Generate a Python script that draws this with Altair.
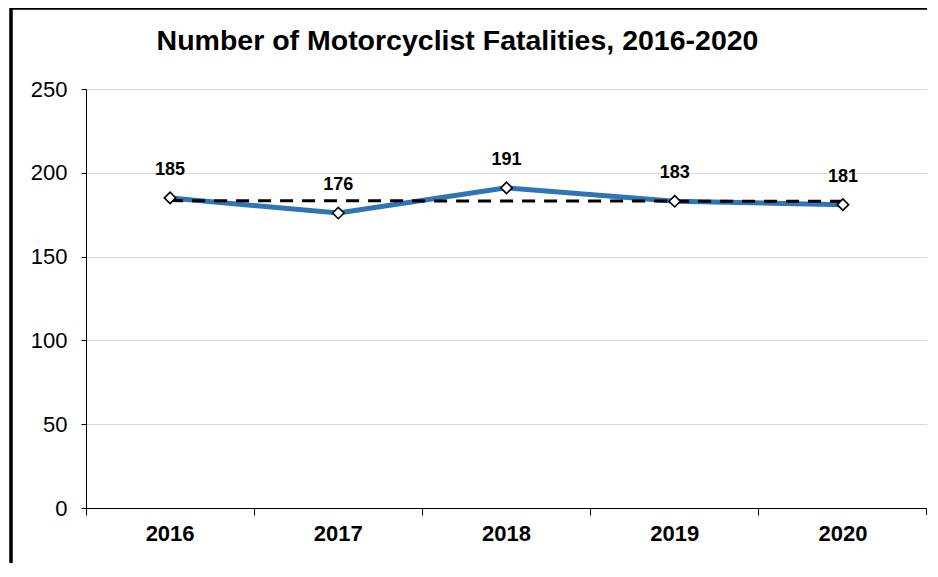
import altair as alt
import pandas as pd

years = ["2016", "2017", "2018", "2019", "2020"]
year_nums = [2016, 2017, 2018, 2019, 2020]
fatalities = [185, 176, 191, 183, 181]
y_ticks = [0, 50, 100, 150, 200, 250]
title_text = ["Number of Motorcyclist Fatalities, 2016-2020"]

df = pd.DataFrame({"Year": years, "YearNum": year_nums, "Fatalities": fatalities})
title_df = pd.DataFrame({"t": title_text})

W, H = 841, 419
FONT = "Liberation Sans"

x_enc = alt.X("Year:O", scale=alt.Scale(type="band", paddingInner=0, paddingOuter=0, domain=years),
              axis=alt.Axis(title=None, bandPosition=0, labelAngle=0, labelFontSize=22,
                            labelFontWeight="bold", labelColor="black", labelFont=FONT,
                            tickColor="black", tickSize=7, domainColor="black",
                            labelPadding=8, grid=False))
y_enc = alt.Y("Fatalities:Q", scale=alt.Scale(domain=[0, 250], nice=False),
              axis=alt.Axis(title=None, values=y_ticks, labelFontSize=22, labelColor="black",
                            labelFont=FONT, tickColor="black", tickSize=5, labelPadding=14,
                            domainColor="black", gridColor="#d9d9d9", gridWidth=1))

base = alt.Chart(df)

line = base.mark_line(color="#2E75B6", strokeWidth=5).encode(x=x_enc, y=y_enc)

trend = base.transform_regression("YearNum", "Fatalities", method="linear").transform_calculate(
    Year="toString(datum.YearNum)"
).mark_line(color="black", strokeWidth=3, strokeDash=[13, 9]).encode(x=x_enc, y=y_enc)

points = base.mark_point(shape="diamond", size=130, filled=True, fill="white", stroke="black",
                         strokeWidth=1.6, opacity=1).encode(x=x_enc, y=y_enc)

labels = base.mark_text(dy=-28, fontSize=18, fontWeight="bold", font=FONT, color="black").encode(
    x=x_enc, y=y_enc, text=alt.Text("Fatalities:Q"))

title = alt.Chart(title_df).mark_text(fontSize=28.5, fontWeight="bold", font=FONT, color="black",
                                      align="center", baseline="alphabetic").encode(
    x=alt.value(W / 2 - 49), y=alt.value(-39), text="t:N")

end_tick = alt.Chart(df).mark_rule(color="black", strokeWidth=1).encode(
    x=alt.value(W), y=alt.value(H), y2=alt.value(H + 7))

frame_left = alt.Chart(df).mark_rule(color="black", strokeWidth=2.5).encode(
    x=alt.value(-75), y=alt.value(-81), y2=alt.value(H + 60))
frame_top = alt.Chart(df).mark_rule(color="black", strokeWidth=2.5).encode(
    x=alt.value(-75), x2=alt.value(W + 20), y=alt.value(-81))

chart = alt.layer(line, trend, points, labels, title, end_tick, frame_left, frame_top).properties(
    width=W, height=H,
    autosize=alt.AutoSizeParams(type="none"),
    padding={"left": 78, "top": 81, "right": 0, "bottom": 55},
).configure_view(stroke=None).configure(background="white")

chart.save("out.html", embed_options={"renderer": "svg", "actions": False})
